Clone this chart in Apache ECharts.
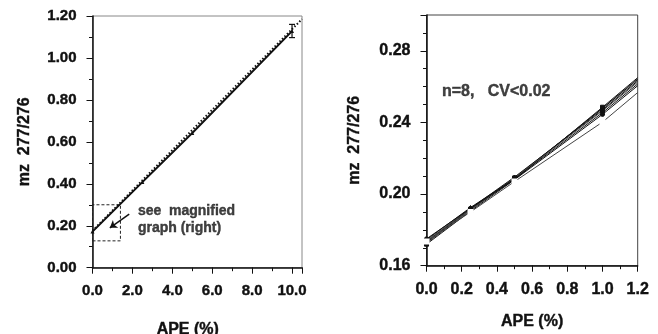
<!DOCTYPE html>
<html>
<head>
<meta charset="utf-8">
<script src="https://cdn.jsdelivr.net/npm/echarts@6/dist/echarts.min.js"></script>
<style>
  html, body { margin: 0; padding: 0; background: #fff; }
  #chart { width: 658px; height: 334px; }
</style>
</head>
<body>
<div id="chart"></div>
<script>
// ---- left panel: whole calibration range ----
const leftXTicks = [0, 2, 4, 6, 8, 10];
const leftYTicks = [0, 0.2, 0.4, 0.6, 0.8, 1.0, 1.2];

const overallApe = [0, 2.5, 5, 10];
const overallRatio = [0.172, 0.408, 0.642, 1.128];
// dotted theoretical line
const theoryApe = [0, 10.5];
const theoryRatio = [0.176, 1.185];
// error bar at 10 %
const errApe = [10];
const errLow = [1.097];
const errHigh = [1.160];
// dashed "magnified" box and arrow
const boxApe = [0, 1.4];
const boxRatio = [0.128, 0.30];
const arrowApe = [1.84, 0.87];
const arrowRatio = [0.255, 0.19];
const noteApe = [2.25];
const noteRatio = [0.228];

// ---- right panel: magnified, n = 8 runs ----
const rightXTicks = [0, 0.2, 0.4, 0.6, 0.8, 1.0, 1.2];
const rightYTicks = [0.16, 0.20, 0.24, 0.28];

const runApe = [0, 0.25, 0.5, 1.0, 1.2];
const run1 = [0.1720, 0.1905, 0.2080, 0.2485, 0.2650];
const run2 = [0.1725, 0.1910, 0.2085, 0.2480, 0.2645];
const run3 = [0.1730, 0.1915, 0.2090, 0.2478, 0.2640];
const run4 = [0.1735, 0.1920, 0.2095, 0.2470, 0.2632];
const run5 = [0.1740, 0.1915, 0.2090, 0.2465, 0.2625];
const run6 = [0.1745, 0.1925, 0.2085, 0.2455, 0.2615];
const run7 = [0.1750, 0.1920, 0.2080, 0.2445, 0.2605];
const run8 = [0.1735, 0.1900, 0.2070, 0.2402, 0.2567];
const runSymbols = ['rect', 'triangle', 'circle', 'diamond', 'rect', 'triangle', 'circle', 'emptyRect'];
const noteRightApe = [0.085];
const noteRightRatio = [0.2575];

const FONT = "'Liberation Sans', Arial, sans-serif";
const INK = '#111';

const chart = echarts.init(document.getElementById('chart'));

const boldText = (size) => ({
  color: INK, fontFamily: FONT, fontWeight: 'bold', fontSize: size,
  textBorderColor: INK, textBorderWidth: 0.4
});

// main axis: line, major ticks and labels
function mainAxis(gridIndex, position, min, max, step, ticks, digits, size, extra) {
  return Object.assign({
    type: 'value',
    gridIndex: gridIndex,
    position: position,
    min: min,
    max: max,
    interval: step,
    splitLine: { show: false },
    axisLine: { show: true, lineStyle: { color: INK, width: 1.5 } },
    axisTick: { show: true, length: 6, lineStyle: { color: INK, width: 1 } },
    axisLabel: Object.assign(boldText(size), {
      margin: 16,
      formatter: (v) => (ticks.some((t) => Math.abs(t - v) < 1e-9) ? v.toFixed(digits) : '')
    }),
    nameTextStyle: boldText(16)
  }, extra || {});
}

// helper axis that only carries the short minor ticks
function minorAxis(gridIndex, position, min, max, step) {
  return {
    type: 'value',
    gridIndex: gridIndex,
    position: position,
    min: min,
    max: max,
    interval: step,
    splitLine: { show: false },
    axisLine: { show: false },
    axisLabel: { show: false },
    axisTick: { show: true, length: 3.5, lineStyle: { color: INK, width: 1 } }
  };
}

const pairs = (xs, ys) => xs.map((x, i) => [x, ys[i]]);

const runSeries = [run1, run2, run3, run4, run5, run6, run7, run8].map((run, k) => ({
  type: 'line',
  xAxisIndex: 2,
  yAxisIndex: 2,
  data: runApe.map((x, i) => (x > 1.0
    ? { value: [x, run[i]], symbol: 'none' }
    : [x, run[i]])),
  symbol: runSymbols[k],
  symbolSize: 4,
  showSymbol: true,
  lineStyle: { color: k % 3 === 1 ? '#444' : INK, width: 1 },
  itemStyle: { color: runSymbols[k] === 'emptyRect' ? '#fff' : INK, borderColor: INK, borderWidth: 1 },
  z: 3
}));

const option = {
  animation: false,
  backgroundColor: '#fff',
  grid: [
    { left: 92.5, top: 16, width: 209.5, height: 251.7, show: true, borderColor: '#888', borderWidth: 1, outerBoundsMode: 'none' },
    { left: 426.5, top: 15, width: 211.2, height: 250.7, show: true, borderColor: '#444', borderWidth: 1, outerBoundsMode: 'none' }
  ],
  xAxis: [
    mainAxis(0, 'bottom', 0, 10.5, 2, leftXTicks, 1, 15, {
      name: 'APE (%)', nameLocation: 'middle', nameGap: 54,
      nameTextStyle: Object.assign(boldText(16), { padding: [0, 19, 0, 0] })
    }),
    minorAxis(0, 'bottom', 0, 10.5, 1),
    mainAxis(1, 'bottom', 0, 1.2, 0.2, rightXTicks, 1, 16, {
      name: 'APE (%)', nameLocation: 'middle', nameGap: 48
    }),
    minorAxis(1, 'bottom', 0, 1.2, 0.1)
  ],
  yAxis: [
    mainAxis(0, 'left', 0, 1.2, 0.2, leftYTicks, 2, 15, { name: 'mz  277/276', nameLocation: 'middle', nameGap: 60 }),
    minorAxis(0, 'left', 0, 1.2, 0.1),
    mainAxis(1, 'left', 0.16, 0.30, 0.04, rightYTicks, 2, 16, { name: 'mz  277/276', nameLocation: 'middle', nameGap: 64 }),
    minorAxis(1, 'left', 0.16, 0.30, 0.01)
  ],
  series: [
    {
      type: 'line',
      xAxisIndex: 0,
      yAxisIndex: 0,
      data: pairs(theoryApe, theoryRatio),
      symbol: 'none',
      lineStyle: { color: INK, width: 2, type: [1.5, 2] },
      z: 2
    },
    {
      type: 'line',
      xAxisIndex: 0,
      yAxisIndex: 0,
      data: pairs(overallApe, overallRatio),
      symbol: 'triangle',
      symbolSize: 4,
      lineStyle: { color: INK, width: 2 },
      itemStyle: { color: INK },
      z: 3,
      markArea: {
        silent: true,
        itemStyle: { color: 'rgba(0,0,0,0)', borderColor: '#222', borderWidth: 1, borderType: [3, 2] },
        data: [[{ coord: [boxApe[0], boxRatio[0]] }, { coord: [boxApe[1], boxRatio[1]] }]]
      },
      markLine: {
        silent: true,
        symbol: ['none', 'arrow'],
        symbolSize: 7,
        label: { show: false },
        lineStyle: { color: INK, type: 'solid', width: 1.5 },
        data: [[{ coord: [arrowApe[0], arrowRatio[0]] }, { coord: [arrowApe[1], arrowRatio[1]] }]]
      }
    },
    {
      type: 'custom',
      xAxisIndex: 0,
      yAxisIndex: 0,
      data: errApe.map((x, i) => [x, errLow[i], errHigh[i]]),
      renderItem: (params, api) => {
        const lo = api.coord([api.value(0), api.value(1)]);
        const hi = api.coord([api.value(0), api.value(2)]);
        const cap = 3;
        const style = { stroke: INK, lineWidth: 1.2 };
        return {
          type: 'group',
          children: [
            { type: 'line', shape: { x1: lo[0], y1: lo[1], x2: hi[0], y2: hi[1] }, style: style },
            { type: 'line', shape: { x1: lo[0] - cap, y1: lo[1], x2: lo[0] + cap, y2: lo[1] }, style: style },
            { type: 'line', shape: { x1: hi[0] - cap, y1: hi[1], x2: hi[0] + cap, y2: hi[1] }, style: style }
          ]
        };
      },
      z: 4
    },
    {
      type: 'scatter',
      xAxisIndex: 0,
      yAxisIndex: 0,
      data: pairs(noteApe, noteRatio),
      symbolSize: 1,
      itemStyle: { color: 'rgba(0,0,0,0)' },
      label: Object.assign(boldText(14), {
        show: true,
        position: 'right',
        distance: 0,
        formatter: 'see  magnified\ngraph (right)',
        lineHeight: 17,
        align: 'left',
        verticalAlign: 'middle'
      })
    },
    ...runSeries,
    {
      type: 'scatter',
      xAxisIndex: 2,
      yAxisIndex: 2,
      data: pairs(noteRightApe, noteRightRatio),
      symbolSize: 1,
      itemStyle: { color: 'rgba(0,0,0,0)' },
      label: Object.assign(boldText(16), {
        show: true,
        position: 'right',
        distance: 0,
        formatter: 'n=8,   CV<0.02',
        align: 'left',
        verticalAlign: 'middle'
      })
    }
  ]
};

chart.setOption(option);
</script>
</body>
</html>
